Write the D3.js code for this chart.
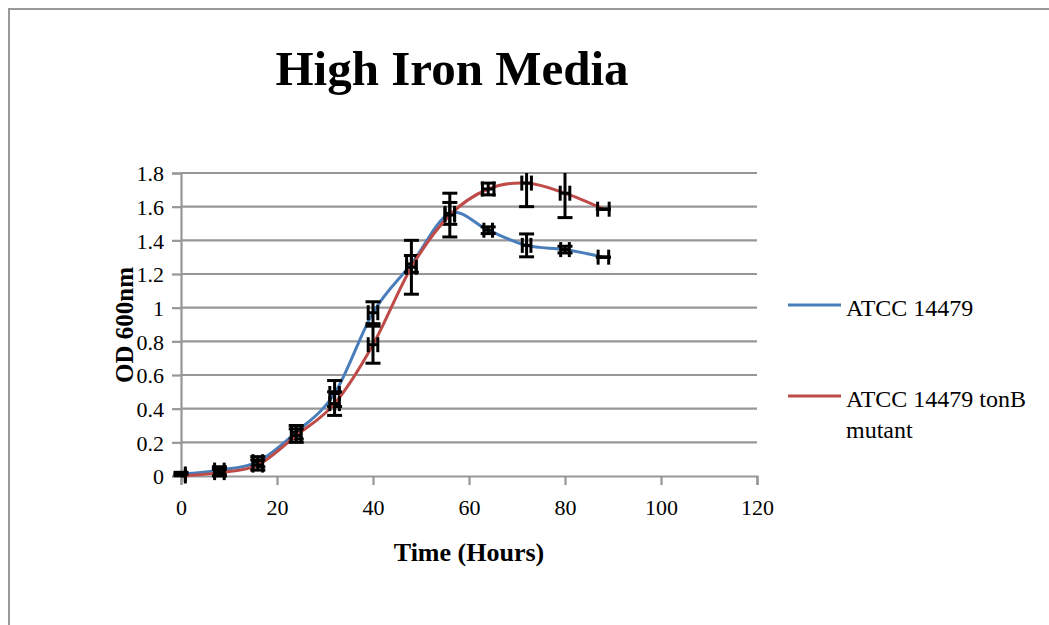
<!DOCTYPE html>
<html>
<head>
<meta charset="utf-8">
<script src="https://cdn.jsdelivr.net/npm/d3@7"></script>
<style>
    body { margin: 0; background: #ffffff; }
    svg { display: block; font-family: "Liberation Serif", serif; }
</style>
</head>
<body>
<svg width="1049" height="625"></svg>
<script>
// hours
let hours = [0, 8, 16, 24, 32, 40, 48, 56, 64, 72, 80, 88];

// ATCC 14479
let wildOD = [0.012, 0.035, 0.085, 0.26, 0.49, 0.97, 1.26, 1.56, 1.46, 1.37, 1.345, 1.30];
let wildErr = [0.01, 0.02, 0.03, 0.04, 0.077, 0.065, 0.05, 0.065, 0.02, 0.068, 0.02, 0];
let wildHourErr = [0.9, 1, 1, 1, 1, 1, 1, 1, 0.9, 0.9, 0.9, 1.1];

// ATCC 14479 tonB mutant
let tonbOD = [0, 0.02, 0.065, 0.24, 0.43, 0.78, 1.24, 1.55, 1.705, 1.74, 1.68, 1.585];
let tonbErr = [0.01, 0.02, 0.03, 0.04, 0.07, 0.11, 0.16, 0.13, 0.035, 0.14, 0.145, 0];
let tonbHourErr = [0.9, 1, 1, 1, 1, 1, 1, 1, 1.2, 1, 1, 1.2];

let xTicks = [0, 20, 40, 60, 80, 100, 120];
let yTicks = [0, 0.2, 0.4, 0.6, 0.8, 1, 1.2, 1.4, 1.6, 1.8];

let seriesNames = ["ATCC 14479", "ATCC 14479 tonB mutant"];
let seriesColors = ["#4a7ebb", "#be4b48"];

let w = 1049;
let h = 625;
let pLeft = 181;
let pRight = 757;
let pTop = 173;
let pBottom = 476;

let svg = d3.select("svg");

let xScale = d3.scaleLinear()
                .domain([0, 120])
                .range([pLeft, pRight]);

let yScale = d3.scaleLinear()
                .domain([0, 1.8])
                .range([pBottom, pTop]);

let frame = () => {
    svg.append("rect")
            .attr("x", 0)
            .attr("y", 0)
            .attr("width", w)
            .attr("height", h)
            .attr("fill", "#ffffff");
    svg.append("path")
            .attr("d", "M9," + h + " V9 H" + w)
            .attr("fill", "none")
            .attr("stroke", "#999999")
            .attr("stroke-width", 2);
};

let genGrid = () => {
    svg.append("g")
            .selectAll("line")
            .data(yTicks.slice(1))
            .enter()
            .append("line")
            .attr("x1", pLeft)
            .attr("x2", pRight)
            .attr("y1", (d) => {return yScale(d)})
            .attr("y2", (d) => {return yScale(d)})
            .attr("stroke", "#979797")
            .attr("stroke-width", 2.2);
};

let genAxes = () => {
    let xAxis = d3.axisBottom(xScale)
                    .tickValues(xTicks)
                    .tickSize(9)
                    .tickPadding(14)
                    .tickFormat(d3.format("d"));
    let gx = svg.append("g")
            .call(xAxis)
            .attr("transform", "translate(0, " + pBottom + ")");

    let yAxis = d3.axisLeft(yScale)
                    .tickValues(yTicks)
                    .tickSize(9)
                    .tickPadding(8)
                    .tickFormat((d) => {return String(+d.toFixed(1))});
    let gy = svg.append("g")
            .call(yAxis)
            .attr("transform", "translate(" + pLeft + ", 0)");

    [gx, gy].forEach((g) => {
        g.select(".domain")
            .attr("stroke", "#979797")
            .attr("stroke-width", 2.2);
        g.selectAll(".tick line")
            .attr("stroke", "#979797")
            .attr("stroke-width", 2.2);
        g.selectAll(".tick text")
            .attr("fill", "#000000")
            .style("font-size", "22px")
            .style("font-family", "Liberation Serif, serif");
    });
    gy.selectAll(".tick text").attr("dy", "0.36em");

    svg.append("text")
            .attr("x", (pLeft + pRight) / 2)
            .attr("y", 561)
            .attr("text-anchor", "middle")
            .style("font-size", "26px")
            .style("font-weight", "bold")
            .text("Time (Hours)");

    svg.append("text")
            .attr("transform", "translate(133, 325) rotate(-90)")
            .attr("text-anchor", "middle")
            .style("font-size", "25px")
            .style("font-weight", "bold")
            .text("OD 600nm");

    svg.append("text")
            .attr("x", 452)
            .attr("y", 85)
            .attr("text-anchor", "middle")
            .style("font-size", "49px")
            .style("font-weight", "bold")
            .text("High Iron Media");
};

let clampY = (v) => {return Math.max(0, Math.min(1.8, v))};
let clampX = (v) => {return Math.max(0, Math.min(120, v))};

let series = (values, errs, hourErrs, color) => {
    let pts = hours.map((t, i) => {return {t: t, v: values[i], e: errs[i], he: hourErrs[i]}});

    let line = d3.line()
                .x((d) => {return xScale(d.t)})
                .y((d) => {return yScale(d.v)})
                .curve(d3.curveCardinal.tension(0));

    svg.append("path")
            .datum(pts)
            .attr("d", line)
            .attr("fill", "none")
            .attr("stroke", color)
            .attr("stroke-width", 3);

    let bars = svg.append("g")
            .attr("stroke", "#000000")
            .attr("stroke-width", 3)
            .selectAll("g")
            .data(pts)
            .enter()
            .append("g");

    // vertical error bars, clipped to the plot like excel does
    bars.append("line")
            .attr("x1", (d) => {return xScale(d.t)})
            .attr("x2", (d) => {return xScale(d.t)})
            .attr("y1", (d) => {return yScale(clampY(d.v - d.e))})
            .attr("y2", (d) => {return yScale(clampY(d.v + d.e))});
    bars.filter((d) => {return d.v + d.e <= 1.8})
            .append("line")
            .attr("x1", (d) => {return xScale(d.t) - 7.5})
            .attr("x2", (d) => {return xScale(d.t) + 7.5})
            .attr("y1", (d) => {return yScale(d.v + d.e)})
            .attr("y2", (d) => {return yScale(d.v + d.e)});
    bars.filter((d) => {return d.v - d.e >= 0})
            .append("line")
            .attr("x1", (d) => {return xScale(d.t) - 7.5})
            .attr("x2", (d) => {return xScale(d.t) + 7.5})
            .attr("y1", (d) => {return yScale(d.v - d.e)})
            .attr("y2", (d) => {return yScale(d.v - d.e)});

    // horizontal error bars
    bars.append("line")
            .attr("x1", (d) => {return xScale(clampX(d.t - d.he))})
            .attr("x2", (d) => {return xScale(clampX(d.t + d.he))})
            .attr("y1", (d) => {return yScale(d.v)})
            .attr("y2", (d) => {return yScale(d.v)});
    bars.filter((d) => {return d.t - d.he >= 0})
            .append("line")
            .attr("x1", (d) => {return xScale(d.t - d.he)})
            .attr("x2", (d) => {return xScale(d.t - d.he)})
            .attr("y1", (d) => {return yScale(d.v) - 7.5})
            .attr("y2", (d) => {return yScale(d.v) + 7.5});
    bars.append("line")
            .attr("x1", (d) => {return xScale(d.t + d.he)})
            .attr("x2", (d) => {return xScale(d.t + d.he)})
            .attr("y1", (d) => {return yScale(d.v) - 7.5})
            .attr("y2", (d) => {return yScale(d.v) + 7.5});
};

let legend = () => {
    let rows = [{y: 305, lines: ["ATCC 14479"]}, {y: 396, lines: ["ATCC 14479 tonB", "mutant"]}];
    rows.forEach((r, i) => {
        svg.append("line")
                .attr("x1", 788)
                .attr("x2", 841)
                .attr("y1", r.y)
                .attr("y2", r.y)
                .attr("stroke", seriesColors[i])
                .attr("stroke-width", 3);
        let t = svg.append("text")
                .attr("x", 846)
                .attr("y", r.y + 11)
                .style("font-size", "24px");
        r.lines.forEach((s, j) => {
            t.append("tspan")
                .attr("x", 846)
                .attr("dy", j == 0 ? 0 : 31)
                .text(s);
        });
    });
};

frame();
genGrid();
genAxes();
series(wildOD, wildErr, wildHourErr, seriesColors[0]);
series(tonbOD, tonbErr, tonbHourErr, seriesColors[1]);
legend();
</script>
</body>
</html>
